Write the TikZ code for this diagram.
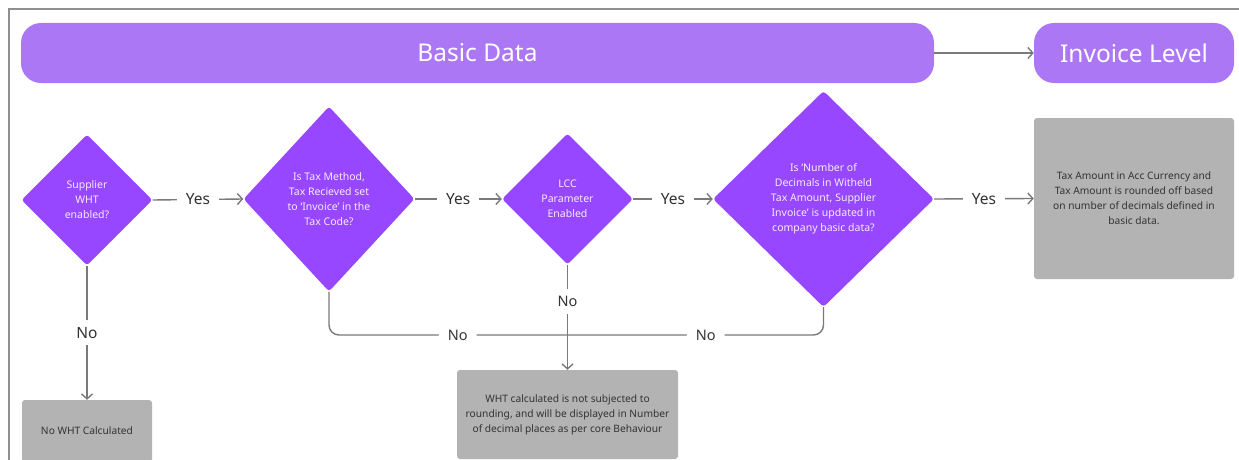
\documentclass[tikz,border=0pt]{standalone}
\usepackage{fontspec}
\setmainfont{Noto Sans}
\usetikzlibrary{shapes.geometric,arrows.meta}
\definecolor{bannerc}{HTML}{AC77F5}
\definecolor{diac}{HTML}{9747FF}
\definecolor{boxg}{HTML}{B3B3B3}
\definecolor{edgec}{HTML}{7A7A7A}
\definecolor{framec}{HTML}{8F8F8F}
\definecolor{txtc}{HTML}{333333}
\definecolor{diatxt}{HTML}{F3EBFF}
\begin{document}
\begin{tikzpicture}[x=1pt,y=-1pt,
 banner/.style={fill=bannerc, rounded corners=20pt, text=white, font=\fontsize{24.5}{29}\selectfont, inner sep=0},
 decision/.style={diamond, fill=diac, rounded corners=3pt, inner sep=0, text=diatxt, align=center, font=\fontsize{10.5}{15}\selectfont},
 result/.style={fill=boxg, rounded corners=3pt, text=txtc, align=center, font=\fontsize{10.2}{15}\selectfont, inner sep=0},
 flow/.style={draw=edgec, line width=1.4pt, -{Straight Barb[length=5pt,width=11pt]}},
 plain/.style={draw=edgec, line width=1.4pt},
 lbl/.style={fill=white, text=txtc, font=\fontsize{15.5}{18}\selectfont, inner xsep=9pt, inner ysep=7pt},
 lbls/.style={lbl, font=\fontsize{14.5}{17}\selectfont}
]
\useasboundingbox (0,0) rectangle (1239,460);
\fill[white] (0,0) rectangle (1239,460);
\draw[framec, line width=1.6pt] (9,470) -- (9,9) -- (1250,9);

\node[banner, minimum width=913pt, minimum height=60pt] (basic) at (477.5,53) {Basic Data};
\node[banner, minimum width=200pt, minimum height=60pt] (inv) at (1134,53) {Invoice Level};

\node[decision, minimum width=131pt, minimum height=131pt] (d1) at (87,200) {Supplier\\WHT\\enabled?};
\node[decision, minimum width=171pt, minimum height=185pt] (d2) at (329,199) {Is Tax Method,\\Tax Recieved set\\to `Invoice' in the\\Tax Code?};
\node[decision, minimum width=131pt, minimum height=131pt] (d3) at (567.5,199) {LCC\\Parameter\\Enabled};
\node[decision, minimum width=221pt, minimum height=216pt] (d4) at (823.5,199) {Is `Number of\\Decimals in Witheld\\Tax Amount, Supplier\\Invoice' is updated in\\company basic data?};

\node[result, minimum width=200pt, minimum height=161pt] (rnd) at (1134,198.5) {Tax Amount in Acc Currency and\\Tax Amount is rounded off based\\on number of decimals defined in\\basic data.};
\node[result, minimum width=130pt, minimum height=62pt] (nowht) at (87,431) {No WHT Calculated};
\node[result, minimum width=221pt, minimum height=89pt] (wht) at (567.5,414.5) {WHT calculated is not subjected to\\rounding, and will be displayed in Number\\of decimal places as per core Behaviour};

\coordinate (m) at (567.5,335);

\path[flow] (basic.east) -- (inv.west);
\path[flow] (d1.east) -- node[lbl]{Yes} (d2.west);
\path[flow] (d2.east) -- node[lbl]{Yes} (d3.west);
\path[flow] (d3.east) -- node[lbl]{Yes} (d4.west);
\path[flow] (d4.east) -- node[lbl]{Yes} (rnd.west);
\path[flow] (d1.south) -- node[lbl]{No} (nowht.north);
\path[plain, rounded corners=10pt] (d2.south) |- node[lbls, pos=0.77]{No} (m);
\path[plain, rounded corners=10pt] (d4.south) |- node[lbls, pos=0.73]{No} (m);
\path[flow] (d3.south) -- node[lbls, pos=0.35]{No} (wht.north);
\end{tikzpicture}
\end{document}
